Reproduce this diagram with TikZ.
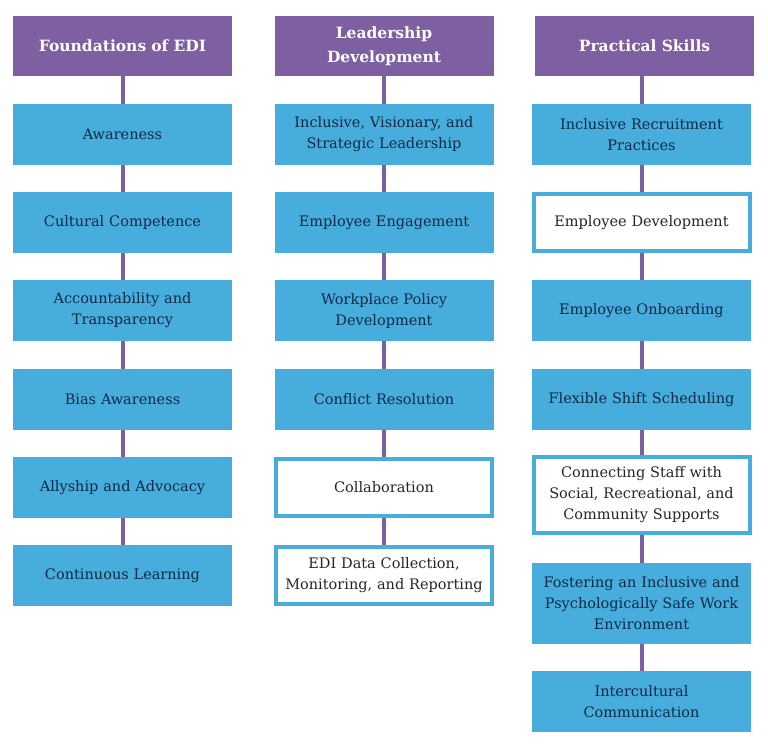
\documentclass[tikz,border=0pt]{standalone}
\usepackage{fontspec}
\setmainfont{DejaVu Serif}
\usetikzlibrary{positioning}
\definecolor{edipurple}{HTML}{7E5FA2}
\definecolor{ediblue}{HTML}{46ADDD}
\definecolor{edinavy}{HTML}{0F2A45}

\begin{document}
\begin{tikzpicture}[x=1pt,y=-1pt,
	head/.style={fill=edipurple,text=white,font=\bfseries\fontsize{15.5}{24}\selectfont,minimum width=219pt,minimum height=60pt,text width=210pt,align=center,inner sep=0pt},
	item/.style={fill=ediblue,text=edinavy,font=\fontsize{14.5}{21}\selectfont,minimum width=219pt,minimum height=#1,text width=216pt,align=center,inner sep=0pt},
	item/.default=61pt,
	itemw/.style={item=#1,fill=white,draw=ediblue,line width=4pt,minimum width=215pt,text=black!85},
	itemw/.default=57pt,
	link/.style={draw=edipurple,line width=4pt}]
\useasboundingbox (0,0) rectangle (768,751);

% headers
\foreach \n/\x/\t in {f0/122.5/Foundations of EDI,l0/384/Leadership\\Development,p0/644.5/Practical Skills}
	\node[head] (\n) at (\x,46) {\t};

% Foundations of EDI
\foreach \n/\y/\t in {f1/134.5/Awareness,f2/222.5/Cultural Competence,f3/310.5/Accountability and\\Transparency,f4/399.5/Bias Awareness,f5/487.5/Allyship and Advocacy,f6/575.5/Continuous Learning}
	\node[item] (\n) at (122.5,\y) {\t};

% Leadership Development
\foreach \n/\y/\s/\t in {l1/134.5/item/{Inclusive, Visionary, and\\Strategic Leadership},l2/222.5/item/Employee Engagement,l3/310.5/item/Workplace Policy\\Development,l4/399.5/item/Conflict Resolution,l5/487.5/itemw/Collaboration,l6/575.5/itemw/{EDI Data Collection,\\Monitoring, and Reporting}}
	\node[\s] (\n) at (384,\y) {\t};

% Practical Skills
\foreach \n/\y/\s/\h/\t in {p1/134.5/item/61pt/Inclusive Recruitment\\Practices,p2/222.5/itemw/57pt/Employee Development,p3/310.5/item/61pt/Employee Onboarding,p4/399.5/item/61pt/Flexible Shift Scheduling,p5/495/itemw/76pt/{Connecting Staff with\\Social, Recreational, and\\Community Supports},p6/603.5/item/81pt/Fostering an Inclusive and\\Psychologically Safe Work\\Environment,p7/701.5/item/61pt/Intercultural\\Communication}
	\node[\s=\h] (\n) at (641.5,\y) {\t};

% connectors
\foreach \c/\m in {f/6,l/6,p/7}
	\foreach \i in {1,...,\m}{
		\pgfmathtruncatemacro\j{\i-1}
		\draw[link] (\c\i.north) -- (\c\i.north |- \c\j.south);
	}

\end{tikzpicture}
\end{document}
